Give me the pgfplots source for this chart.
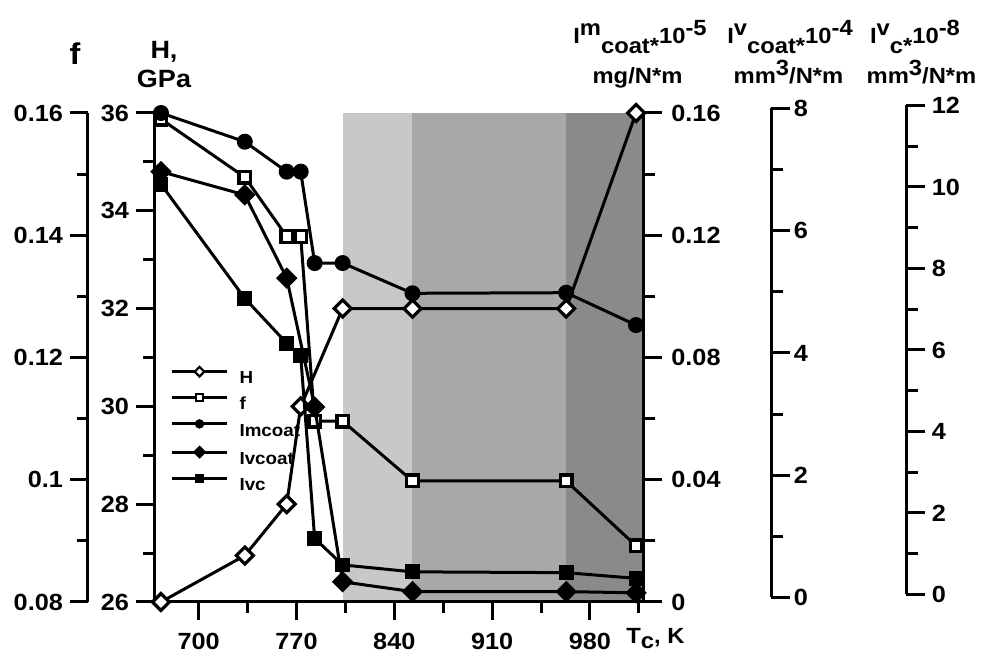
\documentclass[border=0pt]{standalone}
\usepackage{pgfplots}
\pgfplotsset{compat=1.18}
\usepackage{fontspec}
\setmainfont{Liberation Sans}[FakeStretch=1.08]
\definecolor{shlight}{RGB}{200,200,200}
\definecolor{shmid}{RGB}{168,168,168}
\definecolor{shdark}{RGB}{138,138,138}
\newcommand\tickfont{\fontsize{11.7}{13}\selectfont\bfseries}
\newcommand\labfont{\fontsize{11}{13}\selectfont\bfseries}
\newcommand\legfont{\fontsize{8.7}{9}\selectfont\bfseries}
\newcommand\sups[1]{\raisebox{4pt}{#1}}
\newcommand\subs[1]{\raisebox{-5pt}{#1}}

\pgfplotsset{
  base/.style={
    scale only axis, width=244.5pt, height=244.5pt,
    xmin=668, xmax=1018,
    tick style={line width=1.5pt, black},
    major tick length=9pt, minor tick length=5.5pt,
    tick align=outside,
    ticklabel style={font=\tickfont},
    /pgf/number format/assume math mode=true,
    /pgf/number format/fixed,
    scaled y ticks=false,
    axis line style={line width=1.5pt, black},
    clip=false,
  },
  ln/.style={black, line width=1.5pt},
  mH/.style={ln, mark=square*, mark size=3pt, mark options={rotate=45, fill=white, draw=black, line width=1.6pt}},
  mF/.style={ln, mark=square*, mark size=2.9pt, mark options={fill=white, draw=black, line width=1.7pt}},
  mI/.style={ln, mark=*, mark size=3.5pt, mark options={fill=black, draw=black, line width=1pt}},
  mV/.style={ln, mark=square*, mark size=3.3pt, mark options={rotate=45, fill=black, draw=black, line width=1pt}},
  mC/.style={ln, mark=square*, mark size=3.2pt, mark options={fill=black, draw=black, line width=1pt}},
}

\begin{document}
\begin{tikzpicture}
\useasboundingbox (-77pt,-27pt) rectangle (414.5pt,301pt);

% background shading
\begin{axis}[base, at={(0pt,0pt)}, anchor=south west, ymin=26, ymax=36, hide axis]
\fill[shlight] (axis cs:803,26) rectangle (axis cs:853,36);
\fill[shmid] (axis cs:853,26) rectangle (axis cs:963,36);
\fill[shdark] (axis cs:963,26) rectangle (axis cs:1018,36);
\end{axis}

% main axis: H
\begin{axis}[base, name=main, at={(0pt,0pt)}, anchor=south west,
  ymin=26, ymax=36,
  axis x line*=bottom, axis y line*=left,
  xtick={700,770,840,910,980}, minor xtick={735,805,875,945,1015},
  xticklabel style={yshift=-3pt},
  ytick={26,28,30,32,34,36}, minor ytick={27,29,31,33,35},
  legend image code/.code={\draw[#1, mark repeat=2, mark phase=2] plot coordinates {(0pt,3pt) (13.75pt,3pt) (27.5pt,3pt)};},
  legend style={draw=none, fill=none, inner sep=0pt,
    at={(axis description cs:0.033,0.4816)}, anchor=north west,
    font=\legfont, column sep=5.5pt, row sep=5pt,
    nodes={inner sep=0pt, text height=6.3pt, text depth=0pt}},
  legend cell align=left,
]
\addlegendimage{ln, mark=square*, mark size=1.7pt, mark options={rotate=45, fill=white, draw=black, line width=1.1pt}}
\addlegendentry{H}
\addlegendimage{ln, mark=square*, mark size=1.7pt, mark options={fill=white, draw=black, line width=1.1pt}}
\addlegendentry{f}
\addlegendimage{ln, mark=*, mark size=2.1pt, mark options={fill=black, draw=black, line width=0.5pt}}
\addlegendentry{Imcoat}
\addlegendimage{ln, mark=square*, mark size=2.1pt, mark options={rotate=45, fill=black, draw=black, line width=0.5pt}}
\addlegendentry{Ivcoat}
\addlegendimage{ln, mark=square*, mark size=1.9pt, mark options={fill=black, draw=black, line width=0.5pt}}
\addlegendentry{Ivc}
\addplot[mH, forget plot] coordinates {
 (673,26) (733,26.95) (763,28) (773,30) (803,32) (853,32) (963,32) (1013,36)};
\end{axis}

% f data
\begin{axis}[base, at={(0pt,0pt)}, anchor=south west, ymin=0.08, ymax=0.16, hide axis]
\addplot[mF] coordinates {
 (673,0.159) (733,0.1495) (763,0.1398) (773,0.1398) (783,0.1096) (803,0.1096) (853,0.0998) (963,0.0998) (1013,0.0892)};
\end{axis}

% Ivcoat data
\begin{axis}[base, at={(0pt,0pt)}, anchor=south west, ymin=0, ymax=8, hide axis]
\addplot[mV] coordinates {
 (673,7.04) (733,6.66) (763,5.30) (783,3.19) (803,0.33) (853,0.17) (963,0.17) (1013,0.15)};
\end{axis}

% Ivc data
\begin{axis}[base, at={(0pt,0pt)}, anchor=south west, ymin=0, ymax=12, hide axis]
\addplot[mC] coordinates {
 (673,10.25) (733,7.45) (763,6.35) (773,6.04) (783,1.56) (803,0.91) (853,0.74) (963,0.72) (1013,0.58)};
\end{axis}

% Imcoat data + right axis
\begin{axis}[base, at={(0pt,0pt)}, anchor=south west, ymin=0, ymax=0.16,
  hide x axis, axis y line*=right,
  ytick={0,0.04,0.08,0.12,0.16}, minor ytick={0.02,0.06,0.1,0.14},
  major tick length=9.5pt, minor tick length=6pt,
  yticklabel style={inner sep=4.5pt}]
\addplot[mI] coordinates {
 (673,0.16) (733,0.1506) (763,0.1408) (773,0.1408) (783,0.1109) (803,0.1109) (853,0.101) (963,0.1012) (1013,0.0906)};
\end{axis}

% f visible axis
\begin{axis}[base, width=20pt, at={(-33pt,0pt)}, anchor=south west, ymin=0.08, ymax=0.16,
  hide x axis, axis y line*=left,
  ytick={0.08,0.1,0.12,0.14,0.16}, minor ytick={0.09,0.11,0.13,0.15}]
\end{axis}

% Ivcoat visible axis
\begin{axis}[base, width=20pt, at={(308.7pt,2.25pt)}, anchor=south east, ymin=0, ymax=8,
  hide x axis, axis y line*=right,
  ytick={0,2,4,6,8}, minor ytick={1,3,5,7},
  major tick length=9.5pt, minor tick length=6pt,
  yticklabel style={inner sep=1.5pt}]
\end{axis}

% Ivc visible axis
\begin{axis}[base, width=20pt, at={(376.2pt,3.75pt)}, anchor=south east, ymin=0, ymax=12,
  hide x axis, axis y line*=right,
  ytick={0,2,4,6,8,10,12}, minor ytick={1,3,5,7,9,11},
  major tick length=9.5pt, minor tick length=6pt,
  yticklabel style={inner sep=3pt}]
\end{axis}

% labels
\node[anchor=base, font=\fontsize{15}{15}\selectfont\bfseries] at (-39.5pt,268.5pt) {f};
\node[anchor=base, font=\fontsize{12.5}{13}\selectfont\bfseries] at (5pt,271.85pt) {H,};
\node[anchor=base, font=\fontsize{12.5}{13}\selectfont\bfseries] at (5pt,257.35pt) {GPa};
\node[anchor=base, font=\labfont, inner sep=0pt] at (243pt,279.35pt) {I\sups{m}\subs{coat*}10\sups{-5}};
\node[anchor=base, font=\labfont, inner sep=0pt] at (241.75pt,259.35pt) {mg/N*m};
\node[anchor=base, font=\labfont, inner sep=0pt] at (318pt,279.35pt) {I\sups{v}\subs{coat*}10\sups{-4}};
\node[anchor=base, font=\labfont, inner sep=0pt] at (317.25pt,259.35pt) {mm\sups{3}/N*m};
\node[anchor=base, font=\labfont, inner sep=0pt] at (380.5pt,279.35pt) {I\sups{v}\subs{c*}10\sups{-8}};
\node[anchor=base, font=\labfont, inner sep=0pt] at (383.75pt,259.35pt) {mm\sups{3}/N*m};
\node[anchor=base west, font=\labfont, inner sep=0pt] at (236pt,-21pt) {T\raisebox{-2.5pt}{c}, K};
\end{tikzpicture}
\end{document}
